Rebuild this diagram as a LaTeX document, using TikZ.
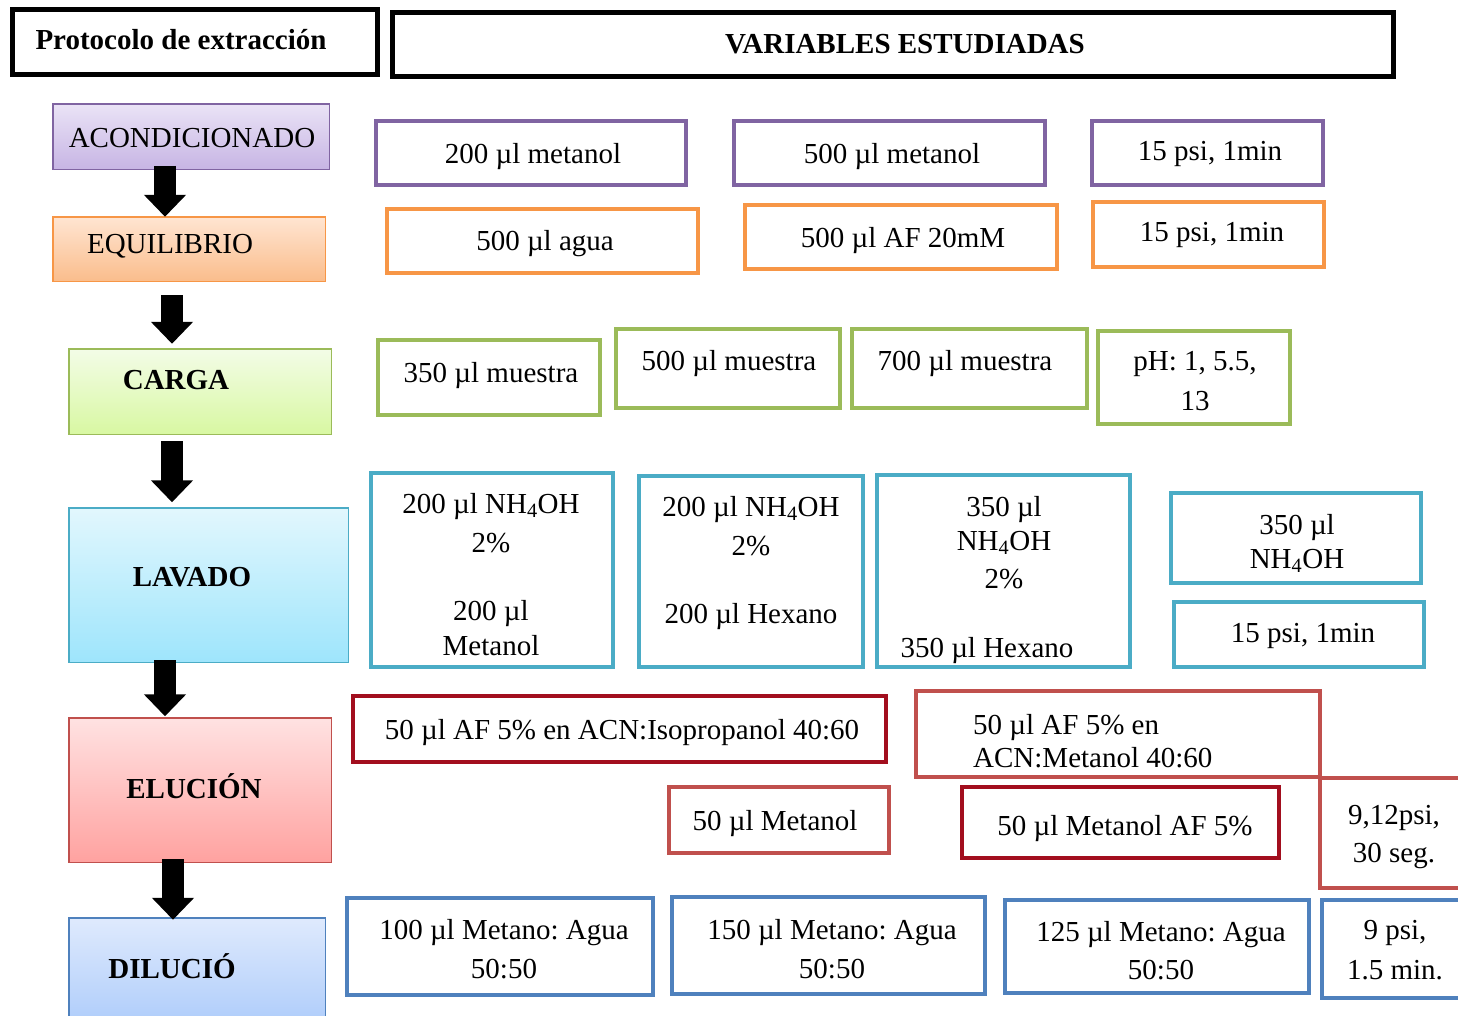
\documentclass[tikz,border=0pt]{standalone}
\usepackage{fontspec}
\setmainfont{Liberation Serif}
\usetikzlibrary{arrows.meta}
\frenchspacing

\definecolor{morado}{RGB}{128,100,162}
\definecolor{naranja}{RGB}{247,150,70}
\definecolor{verde}{RGB}{155,187,89}
\definecolor{cian}{RGB}{75,172,198}
\definecolor{rojo}{RGB}{192,80,77}
\definecolor{granate}{RGB}{162,14,30}
\definecolor{azul}{RGB}{79,129,189}
% gradient ends of the step boxes
\definecolor{moradoA}{RGB}{234,227,246}
\definecolor{moradoB}{RGB}{199,181,228}
\definecolor{naranjaA}{RGB}{255,229,210}
\definecolor{naranjaB}{RGB}{250,189,140}
\definecolor{verdeA}{RGB}{243,252,231}
\definecolor{verdeB}{RGB}{216,248,162}
\definecolor{cianA}{RGB}{226,247,253}
\definecolor{cianB}{RGB}{158,229,252}
\definecolor{rojoA}{RGB}{255,226,226}
\definecolor{rojoB}{RGB}{255,162,160}
\definecolor{azulA}{RGB}{223,234,253}
\definecolor{azulB}{RGB}{170,202,250}

\tikzset{
  caja/.style={rectangle, inner sep=0pt, outer sep=0pt, line width=4pt, fill=white},
  paso/.style={rectangle, inner sep=0pt, outer sep=0pt, line width=1.5pt},
  titulo/.style={rectangle, draw=black, line width=5pt, inner sep=0pt, outer sep=0pt},
  txt/.style={inner sep=0pt, anchor=base, font=\fontsize{29}{35}\selectfont\frenchspacing},
  txtb/.style={inner sep=0pt, anchor=base, font=\fontsize{29}{35}\selectfont\bfseries\frenchspacing},
  flecha/.style={line width=22pt, -{Triangle[width=41pt,length=22pt]}},
}

% framed box given by its outer corners: name, colour, x1, y1, x2, y2
\newcommand{\caja}[6]{%
  \node[caja, draw=#2, minimum width={(#5)-(#3)-4}, minimum height={(#6)-(#4)-4}]
    (#1) at ({((#3)+(#5))/2},{((#4)+(#6))/2}) {};}
% shaded step box: name, border, top colour, bottom colour, x1, y1, x2, y2
\newcommand{\pasobox}[8]{%
  \node[paso, draw=#2, top color=#3, bottom color=#4,
        minimum width={(#7)-(#5)-1.5}, minimum height={(#8)-(#6)-1.5}]
    (#1) at ({((#5)+(#7))/2},{((#6)+(#8))/2}) {};}

\begin{document}
\begin{tikzpicture}[x=1pt,y=-1pt]
\useasboundingbox (0,0) rectangle (1458,1015);
\fill[white] (0,0) rectangle (1458,1015);

% headings
\node[titulo, minimum width=365, minimum height=65] (hprot) at (195,42) {};
\node[titulo, minimum width=1001, minimum height=64] (hvar) at (893,44.5) {};
\node[txtb] (hprott) at (181,49) {Protocolo de extracción};
\node[txtb] (hvart) at (905,53) {VARIABLES ESTUDIADAS};

% protocol steps
\pasobox{acond}{morado}{moradoA}{moradoB}{52}{103}{330}{170}
\pasobox{equil}{naranja}{naranjaA}{naranjaB}{52}{216}{326}{282}
\pasobox{carga}{verde}{verdeA}{verdeB}{68}{348}{332}{435}
\pasobox{lavado}{cian}{cianA}{cianB}{68}{507}{349}{663}
\pasobox{elucion}{rojo}{rojoA}{rojoB}{68}{717}{332}{863}
\pasobox{dilucion}{azul}{azulA}{azulB}{68}{917}{326}{1035}

\node[txt]  (acondt)   at (192,147) {ACONDICIONADO};
\node[txt]  (equilt)   at (170,253) {EQUILIBRIO};
\node[txtb] (cargat)   at (176,389) {CARGA};
\node[txtb] (lavadot)  at (192,586) {LAVADO};
\node[txtb] (eluciont) at (194,798) {ELUCIÓN};
\node[txtb] (diluciont) at (172,978) {DILUCIÓ};

% conditioning
\caja{a1}{morado}{374}{119}{688}{187}
\caja{a2}{morado}{732}{119}{1047}{187}
\caja{a3}{morado}{1090}{119}{1325}{187}
\node[txt] (a1t) at (533,163) {200 µl metanol};
\node[txt] (a2t) at (892,163) {500 µl metanol};
\node[txt] (a3t) at (1210,160) {15 psi, 1min};

% equilibration
\caja{e1}{naranja}{385}{207}{700}{275}
\caja{e2}{naranja}{743}{203}{1059}{271}
\caja{e3}{naranja}{1091}{200}{1326}{269}
\node[txt] (e1t) at (545,250) {500 µl agua};
\node[txt] (e2t) at (903,247) {500 µl AF 20mM};
\node[txt] (e3t) at (1212,241) {15 psi, 1min};

% loading
\caja{c1}{verde}{376}{338}{602}{417}
\caja{c2}{verde}{614}{327}{842}{410}
\caja{c3}{verde}{850}{327}{1089}{410}
\caja{c4}{verde}{1096}{329}{1292}{426}
\node[txt] (c1t) at (491,382) {350 µl muestra};
\node[txt] (c2t) at (729,370) {500 µl muestra};
\node[txt] (c3t) at (965,370) {700 µl muestra};
\node[txt] (c4t) at (1195,370) {pH: 1, 5.5,};
\node[txt] (c4u) at (1195,410) {13};

% washing
\caja{l1}{cian}{369}{471}{615}{669}
\caja{l2}{cian}{637}{474}{865}{669}
\caja{l3}{cian}{875}{473}{1132}{669}
\caja{l4}{cian}{1169}{491}{1423}{585}
\caja{l5}{cian}{1172}{600}{1426}{669}
\node[txt] (l1t) at (491,513) {200 µl NH\textsubscript{4}OH};
\node[txt] (l1u) at (491,552) {2\%};
\node[txt] (l1v) at (491,620) {200 µl};
\node[txt] (l1w) at (491,655) {Metanol};
\node[txt] (l2t) at (751,516) {200 µl NH\textsubscript{4}OH};
\node[txt] (l2u) at (751,555) {2\%};
\node[txt] (l2v) at (751,623) {200 µl Hexano};
\node[txt] (l3t) at (1004,516) {350 µl};
\node[txt] (l3u) at (1004,550) {NH\textsubscript{4}OH};
\node[txt] (l3v) at (1004,588) {2\%};
\node[txt] (l3w) at (987,657) {350 µl Hexano};
\node[txt] (l4t) at (1297,534) {350 µl};
\node[txt] (l4u) at (1297,568) {NH\textsubscript{4}OH};
\node[txt] (l5t) at (1303,642) {15 psi, 1min};

% elution
\caja{u5}{rojo}{1318}{776}{1478}{890}
\caja{u1}{granate}{351}{694}{888}{764}
\caja{u2}{rojo}{914}{689}{1322}{779}
\caja{u3}{rojo}{667}{785}{891}{855}
\caja{u4}{granate}{960}{785}{1281}{860}
\node[txt] (u1t) at (622,739) {50 µl AF 5\% en ACN:Isopropanol 40:60};
\node[txt, anchor=base west] (u2t) at (973,734) {50 µl AF 5\% en};
\node[txt, anchor=base west] (u2u) at (973,767) {ACN:Metanol 40:60};
\node[txt] (u3t) at (775,830) {50 µl Metanol};
\node[txt] (u4t) at (1125,835) {50 µl Metanol AF 5\%};
\node[txt] (u5t) at (1394,824) {9,12psi,};
\node[txt] (u5u) at (1394,862) {30 seg.};

% dilution
\caja{d1}{azul}{345}{896}{655}{997}
\caja{d2}{azul}{670}{895}{987}{996}
\caja{d3}{azul}{1003}{898}{1311}{995}
\caja{d4}{azul}{1320}{898}{1478}{1000}
\node[txt] (d1t) at (504,939) {100 µl Metano: Agua};
\node[txt] (d1u) at (504,978) {50:50};
\node[txt] (d2t) at (832,939) {150 µl Metano: Agua};
\node[txt] (d2u) at (832,978) {50:50};
\node[txt] (d3t) at (1161,941) {125 µl Metano: Agua};
\node[txt] (d3u) at (1161,979) {50:50};
\node[txt] (d4t) at (1395,939) {9 psi,};
\node[txt] (d4u) at (1395,979) {1.5 min.};

% flow between steps
\draw[flecha] ([xshift=-26pt,yshift=3.5pt]acond.south) -- ([xshift=-24pt]equil.north);
\draw[flecha] ([xshift=-17pt,yshift=-14pt]equil.south) -- ([xshift=-28pt,yshift=5pt]carga.north);
\draw[flecha] ([xshift=-28pt,yshift=-7pt]carga.south) -- ([xshift=-36.5pt,yshift=5.5pt]lavado.north);
\draw[flecha] ([xshift=-43.5pt,yshift=2pt]lavado.south) -- ([xshift=-35pt,yshift=1.5pt]elucion.north);
\draw[flecha] ([xshift=-27pt,yshift=3pt]elucion.south) -- ([xshift=-24pt,yshift=-2pt]dilucion.north);
\end{tikzpicture}
\end{document}
